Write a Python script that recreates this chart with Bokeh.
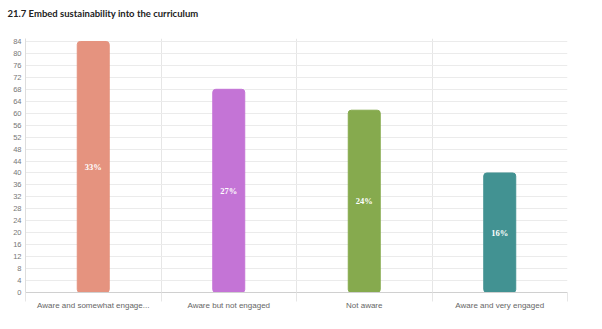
from bokeh.plotting import figure
from bokeh.models import FixedTicker, Range1d, ColumnDataSource, LabelSet, Title
from bokeh.embed import file_html
from bokeh.resources import INLINE

categories = ["Aware and somewhat engage...", "Aware but not engaged", "Not aware", "Aware and very engaged"]
counts = [84, 68, 61, 40]
percent_labels = ["33%", "27%", "24%", "16%"]
colors = ["#E5937F", "#C474D6", "#86AA4E", "#429292"]
y_ticks = list(range(0, 85, 4))

pos = [i + 0.5 for i in range(len(categories))]
mid = [c / 2 for c in counts]
src = ColumnDataSource(dict(x=pos, top=counts, color=colors, mid=mid, lab=percent_labels))

p = figure(width=602, height=329, output_backend="svg", toolbar_location=None,
           x_range=Range1d(0, len(categories)), y_range=Range1d(0, 85),
           min_border_left=25, min_border_right=35, min_border_top=38, min_border_bottom=37)
p.title.text = "21.7 Embed sustainability into the curriculum"
p.title.text_font = "Lato"
p.title.text_font_size = "9.5px"
p.title.text_font_style = "bold"
p.title.text_color = "#222222"
p.title.offset = -18
p.outline_line_color = None
# blank spacer below the title
p.add_layout(Title(text=" ", text_font_size="3px"), "above")

p.vbar(x="x", top="top", bottom=0, width=0.236, color="color", source=src,
       line_color="color", border_radius=3)

labels = LabelSet(x="x", y="mid", text="lab", source=src, text_color="white",
                  text_font_size="8.5px", text_font_style="bold", text_font="Liberation Sans",
                  text_align="center", text_baseline="middle")
p.add_layout(labels)

# y axis
p.yaxis.ticker = FixedTicker(ticks=y_ticks)
p.yaxis.major_label_text_font = "Liberation Sans"
p.yaxis.major_label_text_font_size = "7.5px"
p.yaxis.major_label_text_color = "#777777"
p.yaxis.axis_line_color = "#dddddd"
p.yaxis.major_tick_line_color = None
p.yaxis.major_tick_out = 0
p.yaxis.major_tick_in = 0
p.yaxis.minor_tick_line_color = None
p.yaxis.major_label_standoff = 4

# x axis
p.xaxis.ticker = FixedTicker(ticks=pos, minor_ticks=list(range(len(categories) + 1)))
p.xaxis.major_label_overrides = {x: c for x, c in zip(pos, categories)}
p.xaxis.major_label_text_font = "Liberation Sans"
p.xaxis.major_label_text_font_size = "8px"
p.xaxis.major_label_text_color = "#666666"
p.xaxis.axis_line_color = "#d0d0d0"
p.xaxis.major_tick_line_color = None
p.xaxis.major_tick_out = 0
p.xaxis.major_tick_in = 0
p.xaxis.minor_tick_line_color = "#e6e6e6"
p.xaxis.minor_tick_in = 0
p.xaxis.minor_tick_out = 9
p.xaxis.major_label_standoff = -1

p.xgrid.ticker = FixedTicker(ticks=list(range(len(categories) + 1)))
p.xgrid.grid_line_color = "#e6e6e6"
p.ygrid.grid_line_color = "#ebebeb"

open("out.html", "w").write(file_html(p, INLINE))
